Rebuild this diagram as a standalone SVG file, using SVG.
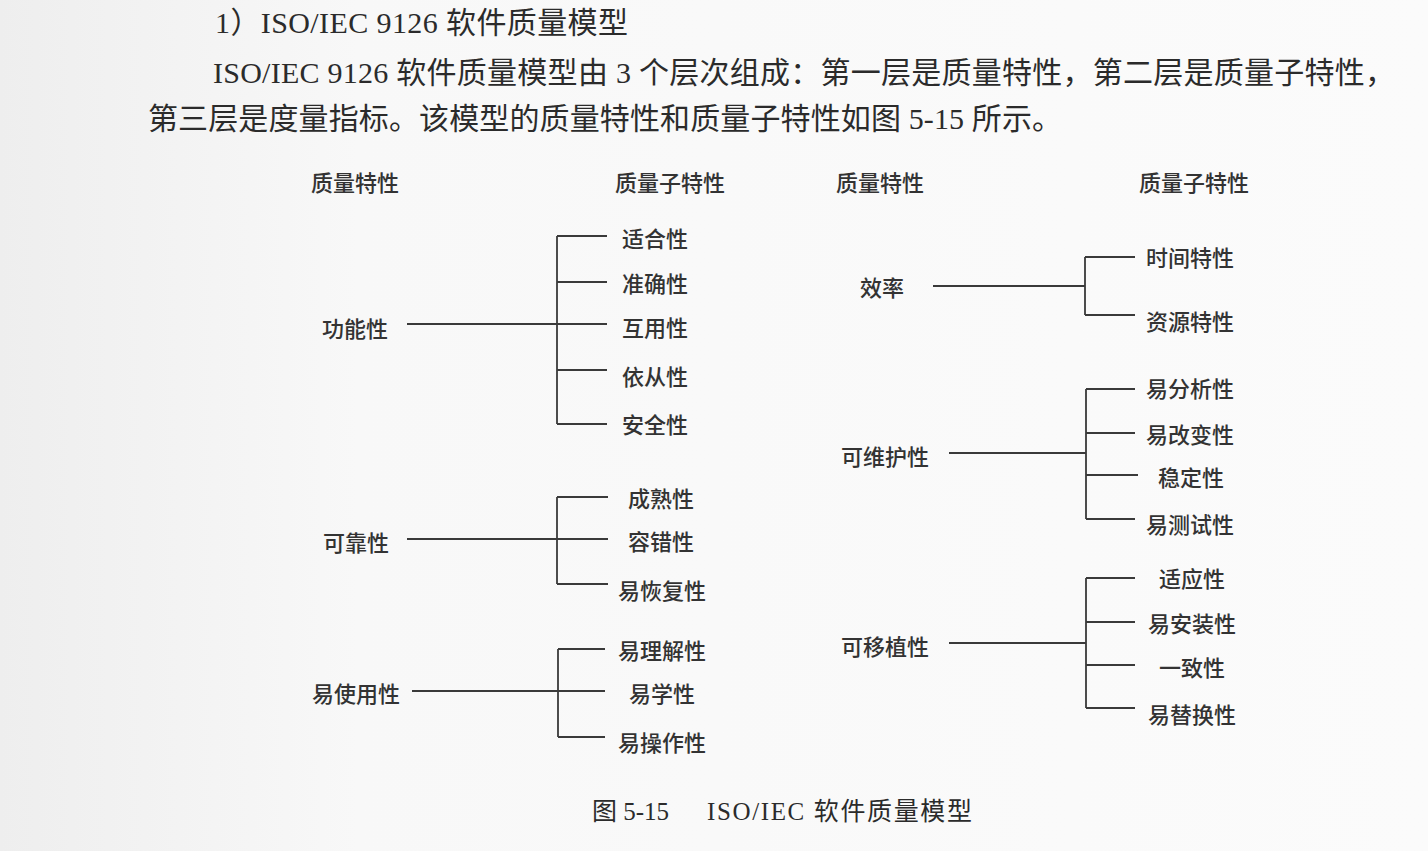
<svg xmlns="http://www.w3.org/2000/svg" width="1428" height="851" viewBox="0 0 1428 851">
<defs>
<linearGradient id="bg" x1="0" y1="0" x2="1" y2="0">
<stop offset="0" stop-color="#eeeeee"/>
<stop offset="0.25" stop-color="#f8f8f8"/>
<stop offset="1" stop-color="#fbfbfb"/>
</linearGradient>
<style>
.para{font-family:"Liberation Serif","Noto Sans CJK SC",serif;font-size:30px;fill:#2b2b2b;}
.cap{font-family:"Liberation Serif","Noto Sans CJK SC",serif;font-size:25px;fill:#2b2b2b;}
.lbl{font-family:"Noto Sans CJK SC","Noto Sans",sans-serif;font-size:22px;fill:#333;text-anchor:middle;dominant-baseline:central;font-weight:500;}
.ln{stroke:#3a3a3a;stroke-width:1.8;fill:none;}
</style>
</defs>
<rect x="0" y="0" width="1428" height="851" fill="url(#bg)"/>
<g id="paragraph">
<text class="para" x="215" y="33" textLength="413" lengthAdjust="spacing">1）ISO/IEC 9126 软件质量模型</text>
<text class="para" x="213" y="83" textLength="1182" lengthAdjust="spacing">ISO/IEC 9126 软件质量模型由 3 个层次组成：第一层是质量特性，第二层是质量子特性，</text>
<text class="para" x="148" y="129" textLength="914" lengthAdjust="spacing">第三层是度量指标。该模型的质量特性和质量子特性如图 5-15 所示。</text>
</g>
<g id="headers">
<text class="lbl" x="355" y="181">质量特性</text>
<text class="lbl" x="670" y="181">质量子特性</text>
<text class="lbl" x="880" y="181">质量特性</text>
<text class="lbl" x="1194" y="181">质量子特性</text>
</g>
<g id="connectors">
<path class="ln" d="M407 324H607M557 236V424M557 236H607M557 282H607M557 370H607M557 424H607"/>
<path class="ln" d="M407 539H608M557 497V584M557 497H608M557 584H608"/>
<path class="ln" d="M412 691H605M558 649V737M558 649H605M558 737H605"/>
<path class="ln" d="M933 286H1085M1085 257V315M1085 257H1135M1085 315H1135"/>
<path class="ln" d="M949 453H1086M1086 389V519M1086 389H1135M1086 433H1135M1086 475H1138M1086 519H1135"/>
<path class="ln" d="M949 643H1086M1086 578V708M1086 578H1135M1086 622H1135M1086 665H1135M1086 708H1135"/>
</g>
<g id="node-gongneng"><text class="lbl" x="355" y="327">功能性</text></g>
<g id="node-shihe"><text class="lbl" x="655" y="237">适合性</text></g>
<g id="node-zhunque"><text class="lbl" x="655" y="282">准确性</text></g>
<g id="node-huyong"><text class="lbl" x="655" y="326">互用性</text></g>
<g id="node-yicong"><text class="lbl" x="655" y="375">依从性</text></g>
<g id="node-anquan"><text class="lbl" x="655" y="423">安全性</text></g>
<g id="node-kekao"><text class="lbl" x="356" y="541">可靠性</text></g>
<g id="node-chengshu"><text class="lbl" x="661" y="497">成熟性</text></g>
<g id="node-rongcuo"><text class="lbl" x="661" y="540">容错性</text></g>
<g id="node-yihuifu"><text class="lbl" x="662" y="589">易恢复性</text></g>
<g id="node-yishiyong"><text class="lbl" x="356" y="692">易使用性</text></g>
<g id="node-yilijie"><text class="lbl" x="662" y="649">易理解性</text></g>
<g id="node-yixue"><text class="lbl" x="662" y="692">易学性</text></g>
<g id="node-yicaozuo"><text class="lbl" x="662" y="741">易操作性</text></g>
<g id="node-xiaolv"><text class="lbl" x="882" y="286">效率</text></g>
<g id="node-shijian"><text class="lbl" x="1190" y="256">时间特性</text></g>
<g id="node-ziyuan"><text class="lbl" x="1190" y="320">资源特性</text></g>
<g id="node-keweihu"><text class="lbl" x="885" y="455">可维护性</text></g>
<g id="node-yifenxi"><text class="lbl" x="1190" y="387">易分析性</text></g>
<g id="node-yigaibian"><text class="lbl" x="1190" y="433">易改变性</text></g>
<g id="node-wending"><text class="lbl" x="1191" y="476">稳定性</text></g>
<g id="node-yiceshi"><text class="lbl" x="1190" y="523">易测试性</text></g>
<g id="node-keyizhi"><text class="lbl" x="885" y="645">可移植性</text></g>
<g id="node-shiying"><text class="lbl" x="1192" y="577">适应性</text></g>
<g id="node-yianzhuang"><text class="lbl" x="1192" y="622">易安装性</text></g>
<g id="node-yizhi"><text class="lbl" x="1192" y="666">一致性</text></g>
<g id="node-yitihuan"><text class="lbl" x="1192" y="713">易替换性</text></g>
<g id="caption">
<text class="cap" x="592" y="820">图 5-15</text>
<text class="cap" x="707" y="820" textLength="265" lengthAdjust="spacing">ISO/IEC 软件质量模型</text>
</g>
</svg>
